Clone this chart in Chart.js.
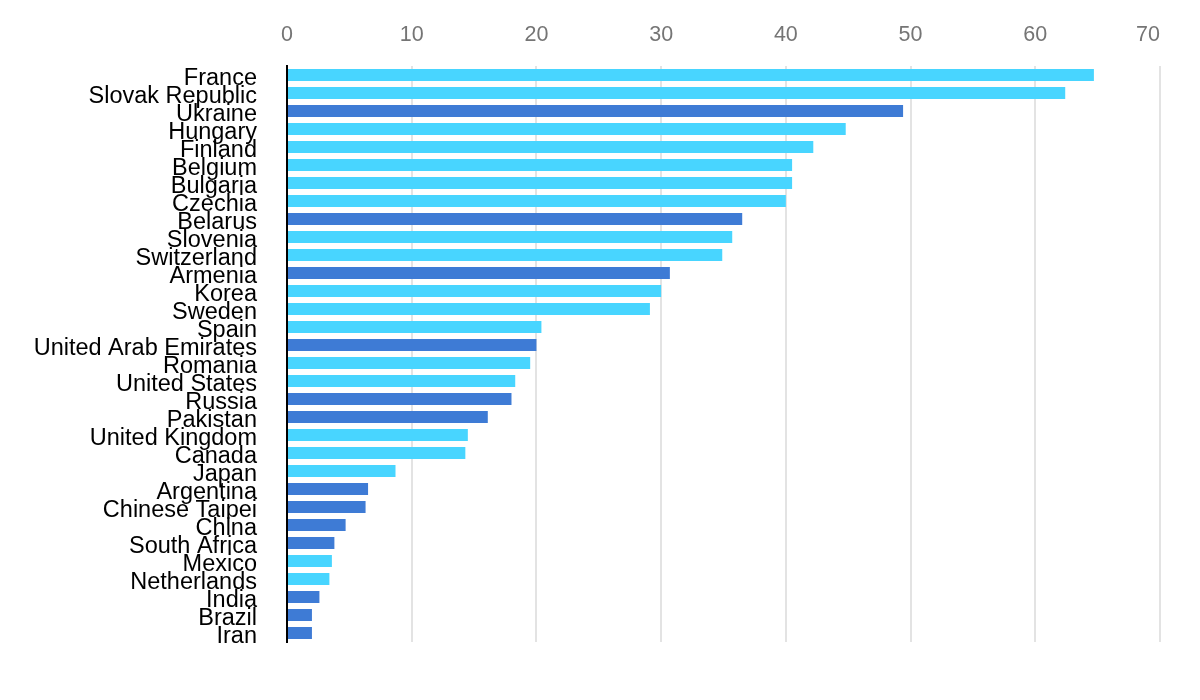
<!DOCTYPE html>
<html>
<head>
<meta charset="utf-8">
<script src="https://cdn.jsdelivr.net/npm/chart.js@4.4.1/dist/chart.umd.min.js"></script>
<style>
  html, body { margin: 0; padding: 0; background: #fff; }
  #wrap { width: 1200px; height: 700px; }
</style>
</head>
<body>
<div id="wrap"><canvas id="chart"></canvas></div>
<script>
// categories, top to bottom
const countries = [
  'France', 'Slovak Republic', 'Ukraine', 'Hungary', 'Finland', 'Belgium',
  'Bulgaria', 'Czechia', 'Belarus', 'Slovenia', 'Switzerland', 'Armenia',
  'Korea', 'Sweden', 'Spain', 'United Arab Emirates', 'Romania',
  'United States', 'Russia', 'Pakistan', 'United Kingdom', 'Canada', 'Japan',
  'Argentina', 'Chinese Taipei', 'China', 'South Africa', 'Mexico',
  'Netherlands', 'India', 'Brazil', 'Iran'
];
const shares = [
  64.7, 62.4, 49.4, 44.8, 42.2, 40.5,
  40.5, 40.0, 36.5, 35.7, 34.9, 30.7,
  30.0, 29.1, 20.4, 20.0, 19.5,
  18.3, 18.0, 16.1, 14.5, 14.3, 8.7,
  6.5, 6.3, 4.7, 3.8, 3.6,
  3.4, 2.6, 2.0, 2.0
];
// 1 = darker blue bar, 0 = light blue bar
const darkGroup = [
  0, 0, 1, 0, 0, 0,
  0, 0, 1, 0, 0, 1,
  0, 0, 0, 1, 0,
  0, 1, 1, 0, 0, 0,
  1, 1, 1, 1, 0,
  0, 1, 1, 1
];
const xTicks = [0, 10, 20, 30, 40, 50, 60, 70];

const lightBlue = '#48d5ff';
const darkBlue = '#3e7bd5';
const fontFamily = "'Liberation Sans', Arial, sans-serif";

new Chart(document.getElementById('chart'), {
  type: 'bar',
  data: {
    labels: countries,
    datasets: [{
      data: shares,
      backgroundColor: darkGroup.map(d => d ? darkBlue : lightBlue),
      categoryPercentage: 1.0,
      barPercentage: 0.67
    }]
  },
  options: {
    indexAxis: 'y',
    responsive: true,
    maintainAspectRatio: false,
    animation: false,
    layout: { padding: { left: 0, right: 40, top: 0, bottom: 58 } },
    plugins: { legend: { display: false }, tooltip: { enabled: false } },
    scales: {
      x: {
        position: 'top',
        min: xTicks[0],
        max: xTicks[xTicks.length - 1],
        afterBuildTicks: s => { s.ticks = xTicks.map(v => ({ value: v })); },
        afterFit: s => {
          s.height = 66;
          s.paddingLeft = 0;
          s.paddingRight = 0;
        },
        grid: { color: '#e3e3e3', lineWidth: 2, drawTicks: false },
        border: { display: false },
        ticks: {
          padding: 18,
          color: '#757575',
          font: { family: fontFamily, size: 21.5 },
          // last label sits left of its gridline, as in the original
          callback: (v, i) => i === xTicks.length - 1 ? v + '    ' : v
        }
      },
      y: {
        afterFit: s => { s.width = 287; },
        grid: { display: false, drawTicks: false },
        border: { color: '#000', width: 2 },
        ticks: {
          autoSkip: false,
          padding: 30,
          labelOffset: 4,
          color: '#000',
          font: { family: fontFamily, size: 23.5 }
        }
      }
    }
  }
});
</script>
</body>
</html>
